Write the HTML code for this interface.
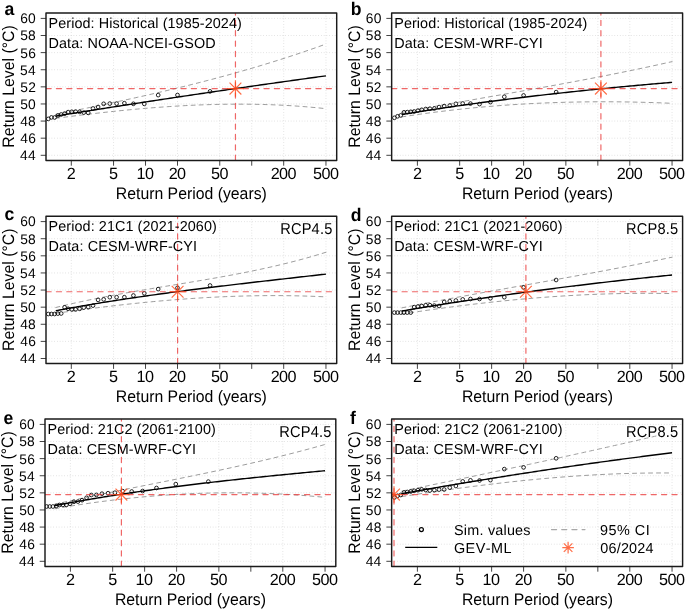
<!DOCTYPE html><html><head><meta charset="utf-8"><style>
html,body{margin:0;padding:0;background:#fff;}
svg{display:block;font-family:"Liberation Sans", sans-serif;font-kerning:none;will-change:transform;}
text{fill:#000;text-rendering:geometricPrecision;}
.grid{stroke:#cdcdcd;stroke-width:0.7;stroke-dasharray:0.75 2.0;fill:none;}
.tick{stroke:#444;stroke-width:1.0;fill:none;}
.ci{stroke:#9c9c9c;stroke-width:1;fill:none;stroke-dasharray:4 4;stroke-linecap:round;}
.gev{stroke:#000;stroke-width:1.4;fill:none;}
.pt circle{stroke:#000;stroke-width:0.85;fill:none;}
.lgc{stroke:#000;stroke-width:1.2;fill:none;}
.red{stroke:rgba(235,60,60,0.78);stroke-width:1.2;fill:none;stroke-dasharray:5.19 5.19;stroke-linecap:round;}
.ast{stroke:rgba(255,69,20,0.78);stroke-width:1.2;fill:none;}
.box{stroke:#1a1a1a;stroke-width:1.45;fill:none;stroke-linejoin:round;}
</style></head><body>
<svg width="685" height="610" viewBox="0 0 685 610">
<rect width="685" height="610" fill="#fff"/>
<g>
<path d="M46 155.3H336.7M46 138.18H336.7M46 121.07H336.7M46 103.96H336.7M46 86.85H336.7M46 69.74H336.7M46 52.62H336.7M46 35.51H336.7M46 18.4H336.7M71.3 13V160.4M113.56 13V160.4M145.53 13V160.4M177.5 13V160.4M219.76 13V160.4M251.73 13V160.4M283.7 13V160.4M325.96 13V160.4" class="grid"/>
<clipPath id="clipa"><rect x="46" y="13" width="290.7" height="147.4"/></clipPath>
<g clip-path="url(#clipa)">
<path d="M55.78 114.35 57.78 113.95 59.78 113.55 61.79 113.15 63.79 112.75 65.79 112.35 67.79 111.95 69.79 111.55 71.79 111.14 73.79 110.74 75.79 110.34 77.8 109.93 79.8 109.52 81.8 109.12 83.8 108.71 85.8 108.3 87.8 107.89 89.8 107.48 91.81 107.06 93.81 106.65 95.81 106.23 97.81 105.82 99.81 105.4 101.81 104.98 103.81 104.56 105.81 104.14 107.82 103.72 109.82 103.3 111.82 102.87 113.82 102.44 115.82 102.02 117.82 101.59 119.82 101.16 121.83 100.73 123.83 100.29 125.83 99.86 127.83 99.42 129.83 98.98 131.83 98.54 133.83 98.1 135.83 97.66 137.84 97.21 139.84 96.77 141.84 96.32 143.84 95.87 145.84 95.42 147.84 94.96 149.84 94.51 151.85 94.05 153.85 93.59 155.85 93.13 157.85 92.67 159.85 92.2 161.85 91.74 163.85 91.27 165.85 90.8 167.86 90.32 169.86 89.85 171.86 89.37 173.86 88.89 175.86 88.41 177.86 87.92 179.86 87.44 181.87 86.95 183.87 86.46 185.87 85.96 187.87 85.47 189.87 84.97 191.87 84.47 193.87 83.97 195.87 83.46 197.88 82.95 199.88 82.44 201.88 81.93 203.88 81.42 205.88 80.9 207.88 80.38 209.88 79.85 211.89 79.33 213.89 78.8 215.89 78.27 217.89 77.73 219.89 77.2 221.89 76.66 223.89 76.11 225.89 75.57 227.9 75.02 229.9 74.47 231.9 73.91 233.9 73.36 235.9 72.8 237.9 72.23 239.9 71.67 241.91 71.1 243.91 70.52 245.91 69.95 247.91 69.37 249.91 68.79 251.91 68.2 253.91 67.61 255.91 67.02 257.92 66.43 259.92 65.83 261.92 65.23 263.92 64.62 265.92 64.01 267.92 63.4 269.92 62.78 271.93 62.17 273.93 61.54 275.93 60.92 277.93 60.29 279.93 59.65 281.93 59.02 283.93 58.38 285.93 57.73 287.94 57.09 289.94 56.43 291.94 55.78 293.94 55.12 295.94 54.46 297.94 53.79 299.94 53.12 301.95 52.45 303.95 51.77 305.95 51.08 307.95 50.4 309.95 49.71 311.95 49.01 313.95 48.32 315.95 47.61 317.96 46.91 319.96 46.2 321.96 45.48 323.96 44.76 325.96 44.04" class="ci"/>
<path d="M55.78 118.33 57.78 118.07 59.78 117.8 61.79 117.54 63.79 117.28 65.79 117.02 67.79 116.76 69.79 116.5 71.79 116.25 73.79 116 75.79 115.75 77.8 115.5 79.8 115.25 81.8 115 83.8 114.76 85.8 114.52 87.8 114.28 89.8 114.04 91.81 113.81 93.81 113.57 95.81 113.34 97.81 113.11 99.81 112.88 101.81 112.66 103.81 112.44 105.81 112.22 107.82 112 109.82 111.78 111.82 111.57 113.82 111.36 115.82 111.15 117.82 110.94 119.82 110.74 121.83 110.53 123.83 110.34 125.83 110.14 127.83 109.95 129.83 109.75 131.83 109.57 133.83 109.38 135.83 109.2 137.84 109.02 139.84 108.84 141.84 108.66 143.84 108.49 145.84 108.32 147.84 108.16 149.84 107.99 151.85 107.83 153.85 107.68 155.85 107.52 157.85 107.37 159.85 107.22 161.85 107.08 163.85 106.93 165.85 106.8 167.86 106.66 169.86 106.53 171.86 106.4 173.86 106.27 175.86 106.15 177.86 106.03 179.86 105.91 181.87 105.8 183.87 105.69 185.87 105.59 187.87 105.49 189.87 105.39 191.87 105.29 193.87 105.2 195.87 105.11 197.88 105.03 199.88 104.95 201.88 104.87 203.88 104.8 205.88 104.73 207.88 104.67 209.88 104.6 211.89 104.55 213.89 104.49 215.89 104.44 217.89 104.4 219.89 104.36 221.89 104.32 223.89 104.28 225.89 104.25 227.9 104.23 229.9 104.21 231.9 104.19 233.9 104.18 235.9 104.17 237.9 104.17 239.9 104.17 241.91 104.17 243.91 104.18 245.91 104.19 247.91 104.21 249.91 104.23 251.91 104.26 253.91 104.29 255.91 104.32 257.92 104.36 259.92 104.41 261.92 104.46 263.92 104.51 265.92 104.57 267.92 104.63 269.92 104.7 271.93 104.77 273.93 104.85 275.93 104.94 277.93 105.02 279.93 105.12 281.93 105.21 283.93 105.31 285.93 105.42 287.94 105.53 289.94 105.65 291.94 105.77 293.94 105.9 295.94 106.04 297.94 106.17 299.94 106.32 301.95 106.47 303.95 106.62 305.95 106.78 307.95 106.94 309.95 107.11 311.95 107.29 313.95 107.47 315.95 107.66 317.96 107.85 319.96 108.04 321.96 108.25 323.96 108.46 325.96 108.67" class="ci"/>
<path d="M55.78 116.1 57.78 115.78 59.78 115.46 61.79 115.13 63.79 114.81 65.79 114.49 67.79 114.17 69.79 113.84 71.79 113.52 73.79 113.2 75.79 112.88 77.8 112.56 79.8 112.24 81.8 111.92 83.8 111.6 85.8 111.29 87.8 110.97 89.8 110.65 91.81 110.33 93.81 110.02 95.81 109.7 97.81 109.38 99.81 109.07 101.81 108.75 103.81 108.44 105.81 108.12 107.82 107.81 109.82 107.5 111.82 107.18 113.82 106.87 115.82 106.56 117.82 106.25 119.82 105.94 121.83 105.62 123.83 105.31 125.83 105 127.83 104.69 129.83 104.38 131.83 104.07 133.83 103.76 135.83 103.46 137.84 103.15 139.84 102.84 141.84 102.53 143.84 102.23 145.84 101.92 147.84 101.61 149.84 101.31 151.85 101 153.85 100.7 155.85 100.39 157.85 100.09 159.85 99.78 161.85 99.48 163.85 99.18 165.85 98.88 167.86 98.57 169.86 98.27 171.86 97.97 173.86 97.67 175.86 97.37 177.86 97.07 179.86 96.77 181.87 96.47 183.87 96.17 185.87 95.87 187.87 95.57 189.87 95.27 191.87 94.97 193.87 94.68 195.87 94.38 197.88 94.08 199.88 93.79 201.88 93.49 203.88 93.19 205.88 92.9 207.88 92.6 209.88 92.31 211.89 92.01 213.89 91.72 215.89 91.43 217.89 91.13 219.89 90.84 221.89 90.55 223.89 90.26 225.89 89.97 227.9 89.67 229.9 89.38 231.9 89.09 233.9 88.8 235.9 88.51 237.9 88.22 239.9 87.93 241.91 87.64 243.91 87.36 245.91 87.07 247.91 86.78 249.91 86.49 251.91 86.21 253.91 85.92 255.91 85.63 257.92 85.35 259.92 85.06 261.92 84.77 263.92 84.49 265.92 84.21 267.92 83.92 269.92 83.64 271.93 83.35 273.93 83.07 275.93 82.79 277.93 82.5 279.93 82.22 281.93 81.94 283.93 81.66 285.93 81.38 287.94 81.1 289.94 80.82 291.94 80.54 293.94 80.26 295.94 79.98 297.94 79.7 299.94 79.42 301.95 79.14 303.95 78.86 305.95 78.58 307.95 78.31 309.95 78.03 311.95 77.75 313.95 77.47 315.95 77.2 317.96 76.92 319.96 76.65 321.96 76.37 323.96 76.1 325.96 75.82" class="gev"/>
<g class="pt"><circle cx="48.3" cy="118.9" r="1.85"/><circle cx="51.44" cy="117.4" r="1.85"/><circle cx="54.62" cy="117.5" r="1.85"/><circle cx="57.87" cy="115.5" r="1.85"/><circle cx="61.19" cy="114.5" r="1.85"/><circle cx="64.61" cy="113.6" r="1.85"/><circle cx="68.13" cy="112.1" r="1.85"/><circle cx="71.79" cy="111.8" r="1.85"/><circle cx="75.6" cy="111.6" r="1.85"/><circle cx="79.59" cy="111.8" r="1.85"/><circle cx="83.79" cy="112.6" r="1.85"/><circle cx="88.24" cy="112.9" r="1.85"/><circle cx="93" cy="108.5" r="1.85"/><circle cx="98.11" cy="107" r="1.85"/><circle cx="103.67" cy="103.8" r="1.85"/><circle cx="109.78" cy="103.6" r="1.85"/><circle cx="116.61" cy="103.6" r="1.85"/><circle cx="124.37" cy="103.2" r="1.85"/><circle cx="133.41" cy="103.8" r="1.85"/><circle cx="144.32" cy="103.9" r="1.85"/><circle cx="158.2" cy="95.1" r="1.85"/><circle cx="177.49" cy="95" r="1.85"/><circle cx="210.04" cy="91.4" r="1.85"/></g>
<path d="M46 88.56H336.7" class="red"/>
<path d="M235.45 160.4V13" class="red"/>
<path d="M235.45 80.26V96.86M227.15 88.56H243.75M229.55 82.66L241.35 94.46M229.55 94.46L241.35 82.66" class="ast"/>
</g>
<text x="48.57" y="27.5" style="font-size:14.4px;letter-spacing:0.07px;">Period: Historical (1985-2024)</text>
<text x="48.57" y="47.5" style="font-size:14.4px;letter-spacing:0.08px;">Data: NOAA-NCEI-GSOD</text>
<path d="M40.7 155.3H46M40.7 138.18H46M40.7 121.07H46M40.7 103.96H46M40.7 86.85H46M40.7 69.74H46M40.7 52.62H46M40.7 35.51H46M40.7 18.4H46M71.3 160.4V165.7M113.56 160.4V165.7M145.53 160.4V165.7M177.5 160.4V165.7M219.76 160.4V165.7M251.73 160.4V165.7M283.7 160.4V165.7M325.96 160.4V165.7" class="tick"/>
<rect x="46" y="13" width="290.7" height="147.4" class="box"/>
<text x="20" y="160.18" style="font-size:13.8px;letter-spacing:0.25px;">44</text>
<text x="20.21" y="143.07" style="font-size:13.8px;letter-spacing:0.25px;">46</text>
<text x="20.2" y="125.96" style="font-size:13.8px;letter-spacing:0.25px;">48</text>
<text x="20.14" y="108.85" style="font-size:13.8px;letter-spacing:0.25px;">50</text>
<text x="20.29" y="91.73" style="font-size:13.8px;letter-spacing:0.25px;">52</text>
<text x="20" y="74.62" style="font-size:13.8px;letter-spacing:0.25px;">54</text>
<text x="20.21" y="57.51" style="font-size:13.8px;letter-spacing:0.25px;">56</text>
<text x="20.2" y="40.4" style="font-size:13.8px;letter-spacing:0.25px;">58</text>
<text x="20.14" y="23.29" style="font-size:13.8px;letter-spacing:0.25px;">60</text>
<text x="66.8" y="178.6" style="font-size:16.2px;letter-spacing:-0.55px;">2</text>
<text x="109.07" y="178.6" style="font-size:16.2px;letter-spacing:-0.55px;">5</text>
<text x="136.5" y="178.6" style="font-size:16.2px;letter-spacing:-0.55px;">10</text>
<text x="168.67" y="178.6" style="font-size:16.2px;letter-spacing:-0.55px;">20</text>
<text x="211.02" y="178.6" style="font-size:16.2px;letter-spacing:-0.55px;">50</text>
<text x="270.64" y="178.6" style="font-size:16.2px;letter-spacing:-0.55px;">200</text>
<text x="312.99" y="178.6" style="font-size:16.2px;letter-spacing:-0.55px;">500</text>
<text transform="translate(115.8 198.6) scale(1 1.05)" style="font-size:15.8px;">Return Period (years)</text>
<text transform="translate(13.85 146.4) rotate(-90) scale(1 1.05)" x="-1.3" y="0" style="font-size:15.8px;letter-spacing:0.01px;">Return Level (°C)</text>
<text transform="translate(4.38 14.5) scale(1 1.03)" style="font-size:17.6px;font-weight:bold;">a</text>
</g>
<g>
<path d="M391.65 155.3H682.6M391.65 138.18H682.6M391.65 121.07H682.6M391.65 103.96H682.6M391.65 86.85H682.6M391.65 69.74H682.6M391.65 52.62H682.6M391.65 35.51H682.6M391.65 18.4H682.6M417.4 13V160.4M459.66 13V160.4M491.63 13V160.4M523.6 13V160.4M565.86 13V160.4M597.83 13V160.4M629.8 13V160.4M672.06 13V160.4" class="grid"/>
<clipPath id="clipb"><rect x="391.65" y="13" width="290.95" height="147.4"/></clipPath>
<g clip-path="url(#clipb)">
<path d="M401.88 112.38 403.88 112.01 405.88 111.64 407.89 111.28 409.89 110.91 411.89 110.55 413.89 110.18 415.89 109.82 417.89 109.46 419.89 109.1 421.89 108.74 423.9 108.38 425.9 108.02 427.9 107.66 429.9 107.3 431.9 106.94 433.9 106.59 435.9 106.23 437.91 105.87 439.91 105.52 441.91 105.16 443.91 104.81 445.91 104.46 447.91 104.1 449.91 103.75 451.91 103.4 453.92 103.04 455.92 102.69 457.92 102.34 459.92 101.99 461.92 101.64 463.92 101.29 465.92 100.94 467.93 100.58 469.93 100.23 471.93 99.88 473.93 99.53 475.93 99.18 477.93 98.83 479.93 98.48 481.93 98.13 483.94 97.78 485.94 97.43 487.94 97.08 489.94 96.73 491.94 96.38 493.94 96.03 495.94 95.68 497.95 95.33 499.95 94.98 501.95 94.63 503.95 94.28 505.95 93.92 507.95 93.57 509.95 93.22 511.95 92.87 513.96 92.51 515.96 92.16 517.96 91.81 519.96 91.45 521.96 91.1 523.96 90.74 525.96 90.39 527.97 90.03 529.97 89.68 531.97 89.32 533.97 88.96 535.97 88.6 537.97 88.24 539.97 87.89 541.97 87.53 543.98 87.16 545.98 86.8 547.98 86.44 549.98 86.08 551.98 85.71 553.98 85.35 555.98 84.99 557.99 84.62 559.99 84.25 561.99 83.88 563.99 83.52 565.99 83.15 567.99 82.78 569.99 82.4 571.99 82.03 574 81.66 576 81.28 578 80.91 580 80.53 582 80.15 584 79.77 586 79.39 588.01 79.01 590.01 78.63 592.01 78.25 594.01 77.86 596.01 77.47 598.01 77.09 600.01 76.7 602.01 76.31 604.02 75.92 606.02 75.52 608.02 75.13 610.02 74.73 612.02 74.34 614.02 73.94 616.02 73.54 618.03 73.14 620.03 72.73 622.03 72.33 624.03 71.92 626.03 71.51 628.03 71.1 630.03 70.69 632.03 70.28 634.04 69.87 636.04 69.45 638.04 69.03 640.04 68.61 642.04 68.19 644.04 67.77 646.04 67.34 648.05 66.91 650.05 66.48 652.05 66.05 654.05 65.62 656.05 65.19 658.05 64.75 660.05 64.31 662.05 63.87 664.06 63.43 666.06 62.98 668.06 62.54 670.06 62.09 672.06 61.64" class="ci"/>
<path d="M401.88 116.91 403.88 116.59 405.88 116.29 407.89 115.98 409.89 115.68 411.89 115.38 413.89 115.09 415.89 114.79 417.89 114.51 419.89 114.22 421.89 113.94 423.9 113.66 425.9 113.39 427.9 113.12 429.9 112.85 431.9 112.59 433.9 112.33 435.9 112.07 437.91 111.82 439.91 111.57 441.91 111.32 443.91 111.08 445.91 110.84 447.91 110.6 449.91 110.37 451.91 110.14 453.92 109.91 455.92 109.69 457.92 109.47 459.92 109.25 461.92 109.04 463.92 108.82 465.92 108.62 467.93 108.41 469.93 108.21 471.93 108.02 473.93 107.82 475.93 107.63 477.93 107.44 479.93 107.26 481.93 107.08 483.94 106.9 485.94 106.73 487.94 106.55 489.94 106.39 491.94 106.22 493.94 106.06 495.94 105.9 497.95 105.74 499.95 105.59 501.95 105.44 503.95 105.3 505.95 105.15 507.95 105.01 509.95 104.87 511.95 104.74 513.96 104.61 515.96 104.48 517.96 104.36 519.96 104.24 521.96 104.12 523.96 104 525.96 103.89 527.97 103.78 529.97 103.67 531.97 103.57 533.97 103.47 535.97 103.37 537.97 103.28 539.97 103.18 541.97 103.1 543.98 103.01 545.98 102.93 547.98 102.85 549.98 102.77 551.98 102.7 553.98 102.63 555.98 102.56 557.99 102.49 559.99 102.43 561.99 102.37 563.99 102.31 565.99 102.26 567.99 102.21 569.99 102.16 571.99 102.12 574 102.08 576 102.04 578 102 580 101.97 582 101.93 584 101.91 586 101.88 588.01 101.86 590.01 101.84 592.01 101.82 594.01 101.81 596.01 101.8 598.01 101.79 600.01 101.78 602.01 101.78 604.02 101.78 606.02 101.78 608.02 101.78 610.02 101.79 612.02 101.8 614.02 101.81 616.02 101.83 618.03 101.85 620.03 101.87 622.03 101.89 624.03 101.92 626.03 101.95 628.03 101.98 630.03 102.01 632.03 102.05 634.04 102.09 636.04 102.13 638.04 102.18 640.04 102.22 642.04 102.27 644.04 102.32 646.04 102.38 648.05 102.44 650.05 102.5 652.05 102.56 654.05 102.62 656.05 102.69 658.05 102.76 660.05 102.83 662.05 102.91 664.06 102.98 666.06 103.06 668.06 103.15 670.06 103.23 672.06 103.32" class="ci"/>
<path d="M401.88 114.52 403.88 114.19 405.88 113.86 407.89 113.53 409.89 113.21 411.89 112.88 413.89 112.56 415.89 112.24 417.89 111.92 419.89 111.61 421.89 111.29 423.9 110.98 425.9 110.66 427.9 110.35 429.9 110.05 431.9 109.74 433.9 109.43 435.9 109.13 437.91 108.83 439.91 108.53 441.91 108.23 443.91 107.93 445.91 107.63 447.91 107.34 449.91 107.04 451.91 106.75 453.92 106.46 455.92 106.17 457.92 105.89 459.92 105.6 461.92 105.32 463.92 105.04 465.92 104.76 467.93 104.48 469.93 104.2 471.93 103.92 473.93 103.65 475.93 103.37 477.93 103.1 479.93 102.83 481.93 102.56 483.94 102.29 485.94 102.03 487.94 101.76 489.94 101.5 491.94 101.23 493.94 100.97 495.94 100.71 497.95 100.45 499.95 100.2 501.95 99.94 503.95 99.69 505.95 99.44 507.95 99.18 509.95 98.93 511.95 98.68 513.96 98.44 515.96 98.19 517.96 97.95 519.96 97.7 521.96 97.46 523.96 97.22 525.96 96.98 527.97 96.74 529.97 96.5 531.97 96.27 533.97 96.03 535.97 95.8 537.97 95.56 539.97 95.33 541.97 95.1 543.98 94.87 545.98 94.65 547.98 94.42 549.98 94.19 551.98 93.97 553.98 93.75 555.98 93.52 557.99 93.3 559.99 93.08 561.99 92.87 563.99 92.65 565.99 92.43 567.99 92.22 569.99 92 571.99 91.79 574 91.58 576 91.37 578 91.16 580 90.95 582 90.74 584 90.53 586 90.33 588.01 90.12 590.01 89.92 592.01 89.72 594.01 89.51 596.01 89.31 598.01 89.11 600.01 88.92 602.01 88.72 604.02 88.52 606.02 88.33 608.02 88.13 610.02 87.94 612.02 87.74 614.02 87.55 616.02 87.36 618.03 87.17 620.03 86.98 622.03 86.79 624.03 86.61 626.03 86.42 628.03 86.23 630.03 86.05 632.03 85.86 634.04 85.68 636.04 85.5 638.04 85.32 640.04 85.14 642.04 84.96 644.04 84.78 646.04 84.6 648.05 84.42 650.05 84.25 652.05 84.07 654.05 83.9 656.05 83.72 658.05 83.55 660.05 83.37 662.05 83.2 664.06 83.03 666.06 82.86 668.06 82.69 670.06 82.52 672.06 82.35" class="gev"/>
<g class="pt"><circle cx="394.4" cy="117.8" r="1.85"/><circle cx="397.54" cy="116.3" r="1.85"/><circle cx="400.72" cy="115.4" r="1.85"/><circle cx="403.97" cy="112.3" r="1.85"/><circle cx="407.29" cy="112.1" r="1.85"/><circle cx="410.71" cy="111.8" r="1.85"/><circle cx="414.23" cy="111.5" r="1.85"/><circle cx="417.89" cy="110.6" r="1.85"/><circle cx="421.7" cy="109.8" r="1.85"/><circle cx="425.69" cy="109" r="1.85"/><circle cx="429.89" cy="108.7" r="1.85"/><circle cx="434.34" cy="108.5" r="1.85"/><circle cx="439.1" cy="107.1" r="1.85"/><circle cx="444.21" cy="106.1" r="1.85"/><circle cx="449.77" cy="105.6" r="1.85"/><circle cx="455.88" cy="103.8" r="1.85"/><circle cx="462.71" cy="103.5" r="1.85"/><circle cx="470.47" cy="103.6" r="1.85"/><circle cx="479.51" cy="104.1" r="1.85"/><circle cx="490.42" cy="102.1" r="1.85"/><circle cx="504.3" cy="96.8" r="1.85"/><circle cx="523.59" cy="95.45" r="1.85"/><circle cx="556.14" cy="92.1" r="1.85"/></g>
<path d="M391.65 88.56H682.6" class="red"/>
<path d="M600.9 160.4V13" class="red"/>
<path d="M600.9 80.26V96.86M592.6 88.56H609.2M595 82.66L606.8 94.46M595 94.46L606.8 82.66" class="ast"/>
</g>
<text x="394.22" y="27.5" style="font-size:14.4px;letter-spacing:0.07px;">Period: Historical (1985-2024)</text>
<text x="394.22" y="47.5" style="font-size:14.4px;letter-spacing:0.13px;">Data: CESM-WRF-CYI</text>
<path d="M386.35 155.3H391.65M386.35 138.18H391.65M386.35 121.07H391.65M386.35 103.96H391.65M386.35 86.85H391.65M386.35 69.74H391.65M386.35 52.62H391.65M386.35 35.51H391.65M386.35 18.4H391.65M417.4 160.4V165.7M459.66 160.4V165.7M491.63 160.4V165.7M523.6 160.4V165.7M565.86 160.4V165.7M597.83 160.4V165.7M629.8 160.4V165.7M672.06 160.4V165.7" class="tick"/>
<rect x="391.65" y="13" width="290.95" height="147.4" class="box"/>
<text x="365.65" y="160.18" style="font-size:13.8px;letter-spacing:0.25px;">44</text>
<text x="365.86" y="143.07" style="font-size:13.8px;letter-spacing:0.25px;">46</text>
<text x="365.85" y="125.96" style="font-size:13.8px;letter-spacing:0.25px;">48</text>
<text x="365.79" y="108.85" style="font-size:13.8px;letter-spacing:0.25px;">50</text>
<text x="365.94" y="91.73" style="font-size:13.8px;letter-spacing:0.25px;">52</text>
<text x="365.65" y="74.62" style="font-size:13.8px;letter-spacing:0.25px;">54</text>
<text x="365.86" y="57.51" style="font-size:13.8px;letter-spacing:0.25px;">56</text>
<text x="365.85" y="40.4" style="font-size:13.8px;letter-spacing:0.25px;">58</text>
<text x="365.79" y="23.29" style="font-size:13.8px;letter-spacing:0.25px;">60</text>
<text x="412.9" y="178.6" style="font-size:16.2px;letter-spacing:-0.55px;">2</text>
<text x="455.17" y="178.6" style="font-size:16.2px;letter-spacing:-0.55px;">5</text>
<text x="482.6" y="178.6" style="font-size:16.2px;letter-spacing:-0.55px;">10</text>
<text x="514.77" y="178.6" style="font-size:16.2px;letter-spacing:-0.55px;">20</text>
<text x="557.12" y="178.6" style="font-size:16.2px;letter-spacing:-0.55px;">50</text>
<text x="616.74" y="178.6" style="font-size:16.2px;letter-spacing:-0.55px;">200</text>
<text x="659.09" y="178.6" style="font-size:16.2px;letter-spacing:-0.55px;">500</text>
<text transform="translate(461.9 198.6) scale(1 1.05)" style="font-size:15.8px;">Return Period (years)</text>
<text transform="translate(359.95 146.4) rotate(-90) scale(1 1.05)" x="-1.3" y="0" style="font-size:15.8px;letter-spacing:0.01px;">Return Level (°C)</text>
<text transform="translate(350.64 14.5) scale(1 1.03)" style="font-size:17.6px;font-weight:bold;">b</text>
</g>
<g>
<path d="M46 358.5H336.7M46 341.38H336.7M46 324.27H336.7M46 307.16H336.7M46 290.05H336.7M46 272.94H336.7M46 255.82H336.7M46 238.71H336.7M46 221.6H336.7M71.3 216.2V363.6M113.56 216.2V363.6M145.53 216.2V363.6M177.5 216.2V363.6M219.76 216.2V363.6M251.73 216.2V363.6M283.7 216.2V363.6M325.96 216.2V363.6" class="grid"/>
<clipPath id="clipc"><rect x="46" y="216.2" width="290.7" height="147.4"/></clipPath>
<g clip-path="url(#clipc)">
<path d="M55.78 307.51 57.78 307.02 59.78 306.53 61.79 306.05 63.79 305.57 65.79 305.1 67.79 304.64 69.79 304.18 71.79 303.72 73.79 303.27 75.79 302.83 77.8 302.39 79.8 301.95 81.8 301.52 83.8 301.1 85.8 300.67 87.8 300.26 89.8 299.84 91.81 299.43 93.81 299.03 95.81 298.63 97.81 298.23 99.81 297.84 101.81 297.45 103.81 297.06 105.81 296.68 107.82 296.3 109.82 295.92 111.82 295.55 113.82 295.17 115.82 294.81 117.82 294.44 119.82 294.08 121.83 293.72 123.83 293.36 125.83 293.01 127.83 292.66 129.83 292.31 131.83 291.96 133.83 291.61 135.83 291.27 137.84 290.92 139.84 290.58 141.84 290.24 143.84 289.91 145.84 289.57 147.84 289.23 149.84 288.9 151.85 288.57 153.85 288.23 155.85 287.9 157.85 287.57 159.85 287.24 161.85 286.91 163.85 286.59 165.85 286.26 167.86 285.93 169.86 285.6 171.86 285.27 173.86 284.95 175.86 284.62 177.86 284.29 179.86 283.96 181.87 283.63 183.87 283.3 185.87 282.97 187.87 282.64 189.87 282.31 191.87 281.98 193.87 281.64 195.87 281.31 197.88 280.97 199.88 280.64 201.88 280.3 203.88 279.96 205.88 279.61 207.88 279.27 209.88 278.93 211.89 278.58 213.89 278.23 215.89 277.88 217.89 277.52 219.89 277.17 221.89 276.81 223.89 276.45 225.89 276.08 227.9 275.71 229.9 275.34 231.9 274.97 233.9 274.6 235.9 274.22 237.9 273.83 239.9 273.45 241.91 273.06 243.91 272.67 245.91 272.27 247.91 271.87 249.91 271.47 251.91 271.06 253.91 270.65 255.91 270.23 257.92 269.81 259.92 269.39 261.92 268.96 263.92 268.52 265.92 268.08 267.92 267.64 269.92 267.19 271.93 266.74 273.93 266.28 275.93 265.82 277.93 265.35 279.93 264.87 281.93 264.39 283.93 263.91 285.93 263.42 287.94 262.92 289.94 262.42 291.94 261.91 293.94 261.39 295.94 260.87 297.94 260.35 299.94 259.81 301.95 259.27 303.95 258.73 305.95 258.17 307.95 257.61 309.95 257.04 311.95 256.47 313.95 255.89 315.95 255.3 317.96 254.7 319.96 254.1 321.96 253.49 323.96 252.87 325.96 252.25" class="ci"/>
<path d="M55.78 313.33 57.78 313.04 59.78 312.76 61.79 312.48 63.79 312.2 65.79 311.92 67.79 311.64 69.79 311.36 71.79 311.09 73.79 310.82 75.79 310.55 77.8 310.28 79.8 310.01 81.8 309.75 83.8 309.48 85.8 309.22 87.8 308.96 89.8 308.7 91.81 308.45 93.81 308.19 95.81 307.94 97.81 307.69 99.81 307.44 101.81 307.2 103.81 306.95 105.81 306.71 107.82 306.47 109.82 306.23 111.82 306 113.82 305.76 115.82 305.53 117.82 305.3 119.82 305.07 121.83 304.85 123.83 304.63 125.83 304.41 127.83 304.19 129.83 303.97 131.83 303.76 133.83 303.55 135.83 303.34 137.84 303.13 139.84 302.93 141.84 302.72 143.84 302.52 145.84 302.33 147.84 302.13 149.84 301.94 151.85 301.75 153.85 301.56 155.85 301.38 157.85 301.19 159.85 301.01 161.85 300.84 163.85 300.66 165.85 300.49 167.86 300.32 169.86 300.15 171.86 299.99 173.86 299.83 175.86 299.67 177.86 299.51 179.86 299.36 181.87 299.21 183.87 299.06 185.87 298.92 187.87 298.78 189.87 298.64 191.87 298.5 193.87 298.37 195.87 298.24 197.88 298.11 199.88 297.98 201.88 297.86 203.88 297.74 205.88 297.63 207.88 297.51 209.88 297.41 211.89 297.3 213.89 297.19 215.89 297.09 217.89 297 219.89 296.9 221.89 296.81 223.89 296.72 225.89 296.64 227.9 296.56 229.9 296.48 231.9 296.4 233.9 296.33 235.9 296.26 237.9 296.2 239.9 296.14 241.91 296.08 243.91 296.02 245.91 295.97 247.91 295.92 249.91 295.88 251.91 295.84 253.91 295.8 255.91 295.76 257.92 295.73 259.92 295.7 261.92 295.68 263.92 295.66 265.92 295.64 267.92 295.63 269.92 295.62 271.93 295.61 273.93 295.61 275.93 295.61 277.93 295.62 279.93 295.62 281.93 295.64 283.93 295.65 285.93 295.67 287.94 295.7 289.94 295.72 291.94 295.75 293.94 295.79 295.94 295.83 297.94 295.87 299.94 295.92 301.95 295.97 303.95 296.02 305.95 296.08 307.95 296.14 309.95 296.21 311.95 296.28 313.95 296.35 315.95 296.43 317.96 296.51 319.96 296.6 321.96 296.69 323.96 296.79 325.96 296.89" class="ci"/>
<path d="M55.78 310.7 57.78 310.32 59.78 309.95 61.79 309.58 63.79 309.22 65.79 308.85 67.79 308.49 69.79 308.13 71.79 307.78 73.79 307.42 75.79 307.07 77.8 306.72 79.8 306.37 81.8 306.02 83.8 305.68 85.8 305.34 87.8 305 89.8 304.66 91.81 304.33 93.81 303.99 95.81 303.66 97.81 303.33 99.81 303.01 101.81 302.68 103.81 302.36 105.81 302.04 107.82 301.72 109.82 301.4 111.82 301.09 113.82 300.77 115.82 300.46 117.82 300.15 119.82 299.84 121.83 299.54 123.83 299.23 125.83 298.93 127.83 298.63 129.83 298.33 131.83 298.03 133.83 297.73 135.83 297.44 137.84 297.15 139.84 296.86 141.84 296.57 143.84 296.28 145.84 295.99 147.84 295.71 149.84 295.42 151.85 295.14 153.85 294.86 155.85 294.58 157.85 294.3 159.85 294.03 161.85 293.75 163.85 293.48 165.85 293.21 167.86 292.94 169.86 292.67 171.86 292.4 173.86 292.13 175.86 291.87 177.86 291.6 179.86 291.34 181.87 291.08 183.87 290.82 185.87 290.56 187.87 290.3 189.87 290.04 191.87 289.79 193.87 289.53 195.87 289.28 197.88 289.02 199.88 288.77 201.88 288.52 203.88 288.27 205.88 288.02 207.88 287.77 209.88 287.53 211.89 287.28 213.89 287.04 215.89 286.79 217.89 286.55 219.89 286.31 221.89 286.06 223.89 285.82 225.89 285.58 227.9 285.34 229.9 285.1 231.9 284.87 233.9 284.63 235.9 284.39 237.9 284.15 239.9 283.92 241.91 283.68 243.91 283.45 245.91 283.22 247.91 282.98 249.91 282.75 251.91 282.52 253.91 282.29 255.91 282.06 257.92 281.82 259.92 281.59 261.92 281.36 263.92 281.13 265.92 280.91 267.92 280.68 269.92 280.45 271.93 280.22 273.93 279.99 275.93 279.77 277.93 279.54 279.93 279.31 281.93 279.08 283.93 278.86 285.93 278.63 287.94 278.41 289.94 278.18 291.94 277.95 293.94 277.73 295.94 277.5 297.94 277.28 299.94 277.05 301.95 276.82 303.95 276.6 305.95 276.37 307.95 276.15 309.95 275.92 311.95 275.7 313.95 275.47 315.95 275.24 317.96 275.02 319.96 274.79 321.96 274.57 323.96 274.34 325.96 274.11" class="gev"/>
<g class="pt"><circle cx="48.3" cy="314" r="1.85"/><circle cx="51.44" cy="314" r="1.85"/><circle cx="54.62" cy="314" r="1.85"/><circle cx="57.87" cy="313.6" r="1.85"/><circle cx="61.19" cy="313.5" r="1.85"/><circle cx="64.61" cy="307.3" r="1.85"/><circle cx="68.13" cy="308.8" r="1.85"/><circle cx="71.79" cy="309.4" r="1.85"/><circle cx="75.6" cy="309.4" r="1.85"/><circle cx="79.59" cy="308.8" r="1.85"/><circle cx="83.79" cy="307.6" r="1.85"/><circle cx="88.24" cy="307.1" r="1.85"/><circle cx="93" cy="305.6" r="1.85"/><circle cx="98.11" cy="299.9" r="1.85"/><circle cx="103.67" cy="299.4" r="1.85"/><circle cx="109.78" cy="297.2" r="1.85"/><circle cx="116.61" cy="297.2" r="1.85"/><circle cx="124.37" cy="297.2" r="1.85"/><circle cx="133.41" cy="295.5" r="1.85"/><circle cx="144.32" cy="293.3" r="1.85"/><circle cx="158.2" cy="289.1" r="1.85"/><circle cx="177.49" cy="287.8" r="1.85"/><circle cx="210.04" cy="285.5" r="1.85"/></g>
<path d="M46 291.76H336.7" class="red"/>
<path d="M177.6 363.6V216.2" class="red"/>
<path d="M177.6 283.46V300.06M169.3 291.76H185.9M171.7 285.86L183.5 297.66M171.7 297.66L183.5 285.86" class="ast"/>
</g>
<text x="48.57" y="230.7" style="font-size:14.4px;letter-spacing:0.08px;">Period: 21C1 (2021-2060)</text>
<text x="48.57" y="250.7" style="font-size:14.4px;letter-spacing:0.13px;">Data: CESM-WRF-CYI</text>
<text transform="translate(280.2 234) scale(1 1.08)" style="font-size:14.6px;letter-spacing:0.2px;">RCP4.5</text>
<path d="M40.7 358.5H46M40.7 341.38H46M40.7 324.27H46M40.7 307.16H46M40.7 290.05H46M40.7 272.94H46M40.7 255.82H46M40.7 238.71H46M40.7 221.6H46M71.3 363.6V368.9M113.56 363.6V368.9M145.53 363.6V368.9M177.5 363.6V368.9M219.76 363.6V368.9M251.73 363.6V368.9M283.7 363.6V368.9M325.96 363.6V368.9" class="tick"/>
<rect x="46" y="216.2" width="290.7" height="147.4" class="box"/>
<text x="20" y="363.38" style="font-size:13.8px;letter-spacing:0.25px;">44</text>
<text x="20.21" y="346.27" style="font-size:13.8px;letter-spacing:0.25px;">46</text>
<text x="20.2" y="329.16" style="font-size:13.8px;letter-spacing:0.25px;">48</text>
<text x="20.14" y="312.05" style="font-size:13.8px;letter-spacing:0.25px;">50</text>
<text x="20.29" y="294.93" style="font-size:13.8px;letter-spacing:0.25px;">52</text>
<text x="20" y="277.82" style="font-size:13.8px;letter-spacing:0.25px;">54</text>
<text x="20.21" y="260.71" style="font-size:13.8px;letter-spacing:0.25px;">56</text>
<text x="20.2" y="243.6" style="font-size:13.8px;letter-spacing:0.25px;">58</text>
<text x="20.14" y="226.49" style="font-size:13.8px;letter-spacing:0.25px;">60</text>
<text x="66.8" y="381.8" style="font-size:16.2px;letter-spacing:-0.55px;">2</text>
<text x="109.07" y="381.8" style="font-size:16.2px;letter-spacing:-0.55px;">5</text>
<text x="136.5" y="381.8" style="font-size:16.2px;letter-spacing:-0.55px;">10</text>
<text x="168.67" y="381.8" style="font-size:16.2px;letter-spacing:-0.55px;">20</text>
<text x="211.02" y="381.8" style="font-size:16.2px;letter-spacing:-0.55px;">50</text>
<text x="270.64" y="381.8" style="font-size:16.2px;letter-spacing:-0.55px;">200</text>
<text x="312.99" y="381.8" style="font-size:16.2px;letter-spacing:-0.55px;">500</text>
<text transform="translate(115.8 401.8) scale(1 1.05)" style="font-size:15.8px;">Return Period (years)</text>
<text transform="translate(13.85 349.6) rotate(-90) scale(1 1.05)" x="-1.3" y="0" style="font-size:15.8px;letter-spacing:0.01px;">Return Level (°C)</text>
<text transform="translate(4.61 220) scale(1 1.03)" style="font-size:17.6px;font-weight:bold;">c</text>
</g>
<g>
<path d="M391.65 358.5H682.6M391.65 341.38H682.6M391.65 324.27H682.6M391.65 307.16H682.6M391.65 290.05H682.6M391.65 272.94H682.6M391.65 255.82H682.6M391.65 238.71H682.6M391.65 221.6H682.6M417.4 216.2V363.6M459.66 216.2V363.6M491.63 216.2V363.6M523.6 216.2V363.6M565.86 216.2V363.6M597.83 216.2V363.6M629.8 216.2V363.6M672.06 216.2V363.6" class="grid"/>
<clipPath id="clipd"><rect x="391.65" y="216.2" width="290.95" height="147.4"/></clipPath>
<g clip-path="url(#clipd)">
<path d="M401.88 307.86 403.88 307.46 405.88 307.07 407.89 306.67 409.89 306.28 411.89 305.89 413.89 305.49 415.89 305.11 417.89 304.72 419.89 304.33 421.89 303.94 423.9 303.56 425.9 303.17 427.9 302.79 429.9 302.41 431.9 302.03 433.9 301.65 435.9 301.27 437.91 300.9 439.91 300.52 441.91 300.14 443.91 299.77 445.91 299.4 447.91 299.02 449.91 298.65 451.91 298.28 453.92 297.91 455.92 297.54 457.92 297.17 459.92 296.81 461.92 296.44 463.92 296.07 465.92 295.71 467.93 295.34 469.93 294.98 471.93 294.61 473.93 294.25 475.93 293.89 477.93 293.53 479.93 293.16 481.93 292.8 483.94 292.44 485.94 292.08 487.94 291.72 489.94 291.36 491.94 291 493.94 290.65 495.94 290.29 497.95 289.93 499.95 289.57 501.95 289.21 503.95 288.86 505.95 288.5 507.95 288.14 509.95 287.79 511.95 287.43 513.96 287.07 515.96 286.72 517.96 286.36 519.96 286 521.96 285.65 523.96 285.29 525.96 284.93 527.97 284.58 529.97 284.22 531.97 283.86 533.97 283.51 535.97 283.15 537.97 282.79 539.97 282.44 541.97 282.08 543.98 281.72 545.98 281.36 547.98 281 549.98 280.64 551.98 280.29 553.98 279.93 555.98 279.57 557.99 279.21 559.99 278.84 561.99 278.48 563.99 278.12 565.99 277.76 567.99 277.4 569.99 277.03 571.99 276.67 574 276.3 576 275.94 578 275.57 580 275.21 582 274.84 584 274.47 586 274.1 588.01 273.73 590.01 273.36 592.01 272.99 594.01 272.62 596.01 272.25 598.01 271.87 600.01 271.5 602.01 271.12 604.02 270.74 606.02 270.37 608.02 269.99 610.02 269.61 612.02 269.23 614.02 268.84 616.02 268.46 618.03 268.08 620.03 267.69 622.03 267.31 624.03 266.92 626.03 266.53 628.03 266.14 630.03 265.75 632.03 265.35 634.04 264.96 636.04 264.56 638.04 264.17 640.04 263.77 642.04 263.37 644.04 262.97 646.04 262.56 648.05 262.16 650.05 261.75 652.05 261.35 654.05 260.94 656.05 260.53 658.05 260.12 660.05 259.7 662.05 259.29 664.06 258.87 666.06 258.45 668.06 258.03 670.06 257.61 672.06 257.18" class="ci"/>
<path d="M401.88 314.03 403.88 313.73 405.88 313.42 407.89 313.11 409.89 312.81 411.89 312.51 413.89 312.21 415.89 311.92 417.89 311.62 419.89 311.33 421.89 311.04 423.9 310.75 425.9 310.46 427.9 310.17 429.9 309.89 431.9 309.61 433.9 309.33 435.9 309.05 437.91 308.77 439.91 308.5 441.91 308.23 443.91 307.96 445.91 307.69 447.91 307.42 449.91 307.16 451.91 306.9 453.92 306.64 455.92 306.38 457.92 306.12 459.92 305.87 461.92 305.62 463.92 305.37 465.92 305.12 467.93 304.88 469.93 304.64 471.93 304.4 473.93 304.16 475.93 303.92 477.93 303.69 479.93 303.46 481.93 303.23 483.94 303 485.94 302.78 487.94 302.56 489.94 302.34 491.94 302.12 493.94 301.9 495.94 301.69 497.95 301.48 499.95 301.27 501.95 301.06 503.95 300.86 505.95 300.66 507.95 300.46 509.95 300.26 511.95 300.07 513.96 299.88 515.96 299.69 517.96 299.5 519.96 299.32 521.96 299.14 523.96 298.96 525.96 298.78 527.97 298.61 529.97 298.44 531.97 298.27 533.97 298.1 535.97 297.94 537.97 297.78 539.97 297.62 541.97 297.47 543.98 297.31 545.98 297.16 547.98 297.02 549.98 296.87 551.98 296.73 553.98 296.59 555.98 296.45 557.99 296.32 559.99 296.19 561.99 296.06 563.99 295.93 565.99 295.81 567.99 295.69 569.99 295.57 571.99 295.46 574 295.35 576 295.24 578 295.13 580 295.03 582 294.93 584 294.83 586 294.74 588.01 294.64 590.01 294.56 592.01 294.47 594.01 294.39 596.01 294.31 598.01 294.23 600.01 294.16 602.01 294.09 604.02 294.02 606.02 293.95 608.02 293.89 610.02 293.83 612.02 293.78 614.02 293.73 616.02 293.68 618.03 293.63 620.03 293.59 622.03 293.55 624.03 293.51 626.03 293.48 628.03 293.45 630.03 293.42 632.03 293.39 634.04 293.37 636.04 293.35 638.04 293.34 640.04 293.33 642.04 293.32 644.04 293.32 646.04 293.31 648.05 293.32 650.05 293.32 652.05 293.33 654.05 293.34 656.05 293.36 658.05 293.38 660.05 293.4 662.05 293.42 664.06 293.45 666.06 293.48 668.06 293.52 670.06 293.56 672.06 293.6" class="ci"/>
<path d="M401.88 310.99 403.88 310.66 405.88 310.32 407.89 309.98 409.89 309.65 411.89 309.31 413.89 308.98 415.89 308.65 417.89 308.32 419.89 307.99 421.89 307.66 423.9 307.33 425.9 307.01 427.9 306.68 429.9 306.36 431.9 306.03 433.9 305.71 435.9 305.39 437.91 305.07 439.91 304.76 441.91 304.44 443.91 304.12 445.91 303.81 447.91 303.5 449.91 303.18 451.91 302.87 453.92 302.56 455.92 302.25 457.92 301.94 459.92 301.64 461.92 301.33 463.92 301.03 465.92 300.72 467.93 300.42 469.93 300.12 471.93 299.82 473.93 299.52 475.93 299.22 477.93 298.93 479.93 298.63 481.93 298.34 483.94 298.04 485.94 297.75 487.94 297.46 489.94 297.17 491.94 296.88 493.94 296.59 495.94 296.3 497.95 296.02 499.95 295.73 501.95 295.45 503.95 295.17 505.95 294.89 507.95 294.6 509.95 294.32 511.95 294.05 513.96 293.77 515.96 293.49 517.96 293.22 519.96 292.94 521.96 292.67 523.96 292.4 525.96 292.13 527.97 291.86 529.97 291.59 531.97 291.32 533.97 291.05 535.97 290.79 537.97 290.52 539.97 290.26 541.97 289.99 543.98 289.73 545.98 289.47 547.98 289.21 549.98 288.95 551.98 288.69 553.98 288.44 555.98 288.18 557.99 287.93 559.99 287.67 561.99 287.42 563.99 287.17 565.99 286.92 567.99 286.67 569.99 286.42 571.99 286.17 574 285.93 576 285.68 578 285.44 580 285.19 582 284.95 584 284.71 586 284.47 588.01 284.23 590.01 283.99 592.01 283.75 594.01 283.51 596.01 283.28 598.01 283.04 600.01 282.81 602.01 282.57 604.02 282.34 606.02 282.11 608.02 281.88 610.02 281.65 612.02 281.42 614.02 281.2 616.02 280.97 618.03 280.74 620.03 280.52 622.03 280.3 624.03 280.07 626.03 279.85 628.03 279.63 630.03 279.41 632.03 279.19 634.04 278.97 636.04 278.76 638.04 278.54 640.04 278.33 642.04 278.11 644.04 277.9 646.04 277.69 648.05 277.48 650.05 277.26 652.05 277.06 654.05 276.85 656.05 276.64 658.05 276.43 660.05 276.23 662.05 276.02 664.06 275.82 666.06 275.61 668.06 275.41 670.06 275.21 672.06 275.01" class="gev"/>
<g class="pt"><circle cx="394.4" cy="312.6" r="1.85"/><circle cx="397.54" cy="312.6" r="1.85"/><circle cx="400.72" cy="312.6" r="1.85"/><circle cx="403.97" cy="312.6" r="1.85"/><circle cx="407.29" cy="312.6" r="1.85"/><circle cx="410.71" cy="312.6" r="1.85"/><circle cx="414.23" cy="307.1" r="1.85"/><circle cx="417.89" cy="306.6" r="1.85"/><circle cx="421.7" cy="306" r="1.85"/><circle cx="425.69" cy="305.2" r="1.85"/><circle cx="429.89" cy="305.2" r="1.85"/><circle cx="434.34" cy="305.6" r="1.85"/><circle cx="439.1" cy="306" r="1.85"/><circle cx="444.21" cy="302" r="1.85"/><circle cx="449.77" cy="301.2" r="1.85"/><circle cx="455.88" cy="300.5" r="1.85"/><circle cx="462.71" cy="299.4" r="1.85"/><circle cx="470.47" cy="299" r="1.85"/><circle cx="479.51" cy="299" r="1.85"/><circle cx="490.42" cy="298.3" r="1.85"/><circle cx="504.3" cy="297.2" r="1.85"/><circle cx="523.59" cy="287.4" r="1.85"/><circle cx="556.14" cy="280" r="1.85"/></g>
<path d="M391.65 291.76H682.6" class="red"/>
<path d="M525.9 363.6V216.2" class="red"/>
<path d="M525.9 283.46V300.06M517.6 291.76H534.2M520 285.86L531.8 297.66M520 297.66L531.8 285.86" class="ast"/>
</g>
<text x="394.22" y="230.7" style="font-size:14.4px;letter-spacing:0.08px;">Period: 21C1 (2021-2060)</text>
<text x="394.22" y="250.7" style="font-size:14.4px;letter-spacing:0.13px;">Data: CESM-WRF-CYI</text>
<text transform="translate(626.1 234) scale(1 1.08)" style="font-size:14.6px;letter-spacing:0.2px;">RCP8.5</text>
<path d="M386.35 358.5H391.65M386.35 341.38H391.65M386.35 324.27H391.65M386.35 307.16H391.65M386.35 290.05H391.65M386.35 272.94H391.65M386.35 255.82H391.65M386.35 238.71H391.65M386.35 221.6H391.65M417.4 363.6V368.9M459.66 363.6V368.9M491.63 363.6V368.9M523.6 363.6V368.9M565.86 363.6V368.9M597.83 363.6V368.9M629.8 363.6V368.9M672.06 363.6V368.9" class="tick"/>
<rect x="391.65" y="216.2" width="290.95" height="147.4" class="box"/>
<text x="365.65" y="363.38" style="font-size:13.8px;letter-spacing:0.25px;">44</text>
<text x="365.86" y="346.27" style="font-size:13.8px;letter-spacing:0.25px;">46</text>
<text x="365.85" y="329.16" style="font-size:13.8px;letter-spacing:0.25px;">48</text>
<text x="365.79" y="312.05" style="font-size:13.8px;letter-spacing:0.25px;">50</text>
<text x="365.94" y="294.93" style="font-size:13.8px;letter-spacing:0.25px;">52</text>
<text x="365.65" y="277.82" style="font-size:13.8px;letter-spacing:0.25px;">54</text>
<text x="365.86" y="260.71" style="font-size:13.8px;letter-spacing:0.25px;">56</text>
<text x="365.85" y="243.6" style="font-size:13.8px;letter-spacing:0.25px;">58</text>
<text x="365.79" y="226.49" style="font-size:13.8px;letter-spacing:0.25px;">60</text>
<text x="412.9" y="381.8" style="font-size:16.2px;letter-spacing:-0.55px;">2</text>
<text x="455.17" y="381.8" style="font-size:16.2px;letter-spacing:-0.55px;">5</text>
<text x="482.6" y="381.8" style="font-size:16.2px;letter-spacing:-0.55px;">10</text>
<text x="514.77" y="381.8" style="font-size:16.2px;letter-spacing:-0.55px;">20</text>
<text x="557.12" y="381.8" style="font-size:16.2px;letter-spacing:-0.55px;">50</text>
<text x="616.74" y="381.8" style="font-size:16.2px;letter-spacing:-0.55px;">200</text>
<text x="659.09" y="381.8" style="font-size:16.2px;letter-spacing:-0.55px;">500</text>
<text transform="translate(461.9 401.8) scale(1 1.05)" style="font-size:15.8px;">Return Period (years)</text>
<text transform="translate(359.95 349.6) rotate(-90) scale(1 1.05)" x="-1.3" y="0" style="font-size:15.8px;letter-spacing:0.01px;">Return Level (°C)</text>
<text transform="translate(350.78 220.5) scale(1 1.03)" style="font-size:17.6px;font-weight:bold;">d</text>
</g>
<g>
<path d="M45 561.3H335.8M45 544.18H335.8M45 527.07H335.8M45 509.96H335.8M45 492.85H335.8M45 475.74H335.8M45 458.62H335.8M45 441.51H335.8M45 424.4H335.8M70.4 419V566.4M112.66 419V566.4M144.63 419V566.4M176.6 419V566.4M218.86 419V566.4M250.83 419V566.4M282.8 419V566.4M325.06 419V566.4" class="grid"/>
<clipPath id="clipe"><rect x="45" y="419" width="290.8" height="147.4"/></clipPath>
<g clip-path="url(#clipe)">
<path d="M54.88 504.17 56.88 503.73 58.88 503.28 60.89 502.84 62.89 502.4 64.89 501.96 66.89 501.53 68.89 501.09 70.89 500.66 72.89 500.23 74.89 499.8 76.9 499.37 78.9 498.94 80.9 498.52 82.9 498.09 84.9 497.67 86.9 497.25 88.9 496.83 90.91 496.41 92.91 495.99 94.91 495.58 96.91 495.16 98.91 494.75 100.91 494.34 102.91 493.93 104.91 493.51 106.92 493.11 108.92 492.7 110.92 492.29 112.92 491.88 114.92 491.48 116.92 491.07 118.92 490.67 120.93 490.26 122.93 489.86 124.93 489.45 126.93 489.05 128.93 488.65 130.93 488.25 132.93 487.85 134.93 487.45 136.94 487.04 138.94 486.64 140.94 486.24 142.94 485.84 144.94 485.44 146.94 485.04 148.94 484.64 150.95 484.24 152.95 483.84 154.95 483.44 156.95 483.04 158.95 482.64 160.95 482.24 162.95 481.84 164.95 481.44 166.96 481.04 168.96 480.64 170.96 480.24 172.96 479.83 174.96 479.43 176.96 479.03 178.96 478.62 180.97 478.22 182.97 477.81 184.97 477.4 186.97 477 188.97 476.59 190.97 476.18 192.97 475.77 194.97 475.36 196.98 474.94 198.98 474.53 200.98 474.12 202.98 473.7 204.98 473.28 206.98 472.87 208.98 472.45 210.99 472.03 212.99 471.6 214.99 471.18 216.99 470.76 218.99 470.33 220.99 469.9 222.99 469.47 224.99 469.04 227 468.61 229 468.18 231 467.74 233 467.3 235 466.86 237 466.42 239 465.98 241.01 465.53 243.01 465.08 245.01 464.63 247.01 464.18 249.01 463.73 251.01 463.27 253.01 462.81 255.01 462.35 257.02 461.89 259.02 461.42 261.02 460.96 263.02 460.49 265.02 460.01 267.02 459.54 269.02 459.06 271.03 458.58 273.03 458.1 275.03 457.61 277.03 457.12 279.03 456.63 281.03 456.14 283.03 455.64 285.03 455.14 287.04 454.64 289.04 454.13 291.04 453.62 293.04 453.11 295.04 452.6 297.04 452.08 299.04 451.56 301.05 451.03 303.05 450.5 305.05 449.97 307.05 449.44 309.05 448.9 311.05 448.36 313.05 447.81 315.05 447.26 317.06 446.71 319.06 446.15 321.06 445.59 323.06 445.03 325.06 444.46" class="ci"/>
<path d="M54.88 508.73 56.88 508.38 58.88 508.03 60.89 507.69 62.89 507.35 64.89 507.02 66.89 506.69 68.89 506.36 70.89 506.04 72.89 505.72 74.89 505.4 76.9 505.09 78.9 504.78 80.9 504.47 82.9 504.17 84.9 503.88 86.9 503.58 88.9 503.29 90.91 503.01 92.91 502.73 94.91 502.45 96.91 502.17 98.91 501.9 100.91 501.64 102.91 501.37 104.91 501.12 106.92 500.86 108.92 500.61 110.92 500.36 112.92 500.12 114.92 499.88 116.92 499.64 118.92 499.41 120.93 499.18 122.93 498.96 124.93 498.74 126.93 498.52 128.93 498.31 130.93 498.1 132.93 497.9 134.93 497.7 136.94 497.5 138.94 497.31 140.94 497.12 142.94 496.94 144.94 496.76 146.94 496.58 148.94 496.41 150.95 496.24 152.95 496.07 154.95 495.91 156.95 495.75 158.95 495.6 160.95 495.45 162.95 495.31 164.95 495.17 166.96 495.03 168.96 494.9 170.96 494.77 172.96 494.64 174.96 494.52 176.96 494.41 178.96 494.29 180.97 494.18 182.97 494.08 184.97 493.98 186.97 493.88 188.97 493.79 190.97 493.7 192.97 493.62 194.97 493.54 196.98 493.46 198.98 493.39 200.98 493.32 202.98 493.26 204.98 493.2 206.98 493.14 208.98 493.09 210.99 493.05 212.99 493 214.99 492.96 216.99 492.93 218.99 492.9 220.99 492.87 222.99 492.85 224.99 492.83 227 492.82 229 492.81 231 492.8 233 492.8 235 492.81 237 492.81 239 492.82 241.01 492.84 243.01 492.86 245.01 492.88 247.01 492.91 249.01 492.95 251.01 492.98 253.01 493.02 255.01 493.07 257.02 493.12 259.02 493.17 261.02 493.23 263.02 493.29 265.02 493.36 267.02 493.43 269.02 493.51 271.03 493.59 273.03 493.67 275.03 493.76 277.03 493.85 279.03 493.95 281.03 494.05 283.03 494.16 285.03 494.27 287.04 494.38 289.04 494.5 291.04 494.62 293.04 494.75 295.04 494.88 297.04 495.02 299.04 495.16 301.05 495.3 303.05 495.45 305.05 495.61 307.05 495.76 309.05 495.93 311.05 496.09 313.05 496.26 315.05 496.44 317.06 496.62 319.06 496.81 321.06 496.99 323.06 497.19 325.06 497.39" class="ci"/>
<path d="M54.88 505.57 56.88 505.19 58.88 504.81 60.89 504.44 62.89 504.06 64.89 503.7 66.89 503.33 68.89 502.96 70.89 502.6 72.89 502.24 74.89 501.89 76.9 501.53 78.9 501.18 80.9 500.83 82.9 500.48 84.9 500.14 86.9 499.8 88.9 499.45 90.91 499.12 92.91 498.78 94.91 498.45 96.91 498.12 98.91 497.79 100.91 497.46 102.91 497.13 104.91 496.81 106.92 496.49 108.92 496.17 110.92 495.86 112.92 495.54 114.92 495.23 116.92 494.92 118.92 494.61 120.93 494.31 122.93 494 124.93 493.7 126.93 493.4 128.93 493.1 130.93 492.81 132.93 492.51 134.93 492.22 136.94 491.93 138.94 491.64 140.94 491.36 142.94 491.07 144.94 490.79 146.94 490.51 148.94 490.23 150.95 489.95 152.95 489.67 154.95 489.4 156.95 489.13 158.95 488.86 160.95 488.59 162.95 488.32 164.95 488.06 166.96 487.79 168.96 487.53 170.96 487.27 172.96 487.01 174.96 486.75 176.96 486.5 178.96 486.24 180.97 485.99 182.97 485.74 184.97 485.49 186.97 485.24 188.97 484.99 190.97 484.75 192.97 484.5 194.97 484.26 196.98 484.02 198.98 483.78 200.98 483.54 202.98 483.3 204.98 483.07 206.98 482.83 208.98 482.6 210.99 482.37 212.99 482.14 214.99 481.91 216.99 481.68 218.99 481.45 220.99 481.23 222.99 481 224.99 480.78 227 480.56 229 480.34 231 480.12 233 479.9 235 479.68 237 479.46 239 479.25 241.01 479.03 243.01 478.82 245.01 478.61 247.01 478.39 249.01 478.18 251.01 477.97 253.01 477.77 255.01 477.56 257.02 477.35 259.02 477.14 261.02 476.94 263.02 476.73 265.02 476.53 267.02 476.33 269.02 476.13 271.03 475.92 273.03 475.72 275.03 475.52 277.03 475.32 279.03 475.13 281.03 474.93 283.03 474.73 285.03 474.53 287.04 474.34 289.04 474.14 291.04 473.95 293.04 473.76 295.04 473.56 297.04 473.37 299.04 473.18 301.05 472.99 303.05 472.79 305.05 472.6 307.05 472.41 309.05 472.22 311.05 472.03 313.05 471.85 315.05 471.66 317.06 471.47 319.06 471.28 321.06 471.09 323.06 470.91 325.06 470.72" class="gev"/>
<g class="pt"><circle cx="46.6" cy="506.5" r="1.85"/><circle cx="49.74" cy="506.5" r="1.85"/><circle cx="52.92" cy="506.5" r="1.85"/><circle cx="56.17" cy="506" r="1.85"/><circle cx="59.49" cy="505" r="1.85"/><circle cx="62.91" cy="504.9" r="1.85"/><circle cx="66.43" cy="504.9" r="1.85"/><circle cx="70.09" cy="503.8" r="1.85"/><circle cx="73.9" cy="501.8" r="1.85"/><circle cx="77.89" cy="501.6" r="1.85"/><circle cx="82.09" cy="500.2" r="1.85"/><circle cx="86.54" cy="497.8" r="1.85"/><circle cx="91.3" cy="495" r="1.85"/><circle cx="96.41" cy="494.9" r="1.85"/><circle cx="101.97" cy="493.7" r="1.85"/><circle cx="108.08" cy="493.2" r="1.85"/><circle cx="114.91" cy="492.7" r="1.85"/><circle cx="122.67" cy="491.1" r="1.85"/><circle cx="131.71" cy="491.5" r="1.85"/><circle cx="142.62" cy="491" r="1.85"/><circle cx="156.5" cy="488" r="1.85"/><circle cx="175.79" cy="484.1" r="1.85"/><circle cx="208.34" cy="481.6" r="1.85"/></g>
<path d="M45 494.56H335.8" class="red"/>
<path d="M121.4 566.4V419" class="red"/>
<path d="M121.4 486.26V502.86M113.1 494.56H129.7M115.5 488.66L127.3 500.46M115.5 500.46L127.3 488.66" class="ast"/>
</g>
<text x="47.57" y="433.5" style="font-size:14.4px;letter-spacing:0.08px;">Period: 21C2 (2061-2100)</text>
<text x="47.57" y="453.5" style="font-size:14.4px;letter-spacing:0.13px;">Data: CESM-WRF-CYI</text>
<text transform="translate(279.3 436.8) scale(1 1.08)" style="font-size:14.6px;letter-spacing:0.2px;">RCP4.5</text>
<path d="M39.7 561.3H45M39.7 544.18H45M39.7 527.07H45M39.7 509.96H45M39.7 492.85H45M39.7 475.74H45M39.7 458.62H45M39.7 441.51H45M39.7 424.4H45M70.4 566.4V571.7M112.66 566.4V571.7M144.63 566.4V571.7M176.6 566.4V571.7M218.86 566.4V571.7M250.83 566.4V571.7M282.8 566.4V571.7M325.06 566.4V571.7" class="tick"/>
<rect x="45" y="419" width="290.8" height="147.4" class="box"/>
<text x="19" y="566.18" style="font-size:13.8px;letter-spacing:0.25px;">44</text>
<text x="19.21" y="549.07" style="font-size:13.8px;letter-spacing:0.25px;">46</text>
<text x="19.2" y="531.96" style="font-size:13.8px;letter-spacing:0.25px;">48</text>
<text x="19.14" y="514.85" style="font-size:13.8px;letter-spacing:0.25px;">50</text>
<text x="19.29" y="497.73" style="font-size:13.8px;letter-spacing:0.25px;">52</text>
<text x="19" y="480.62" style="font-size:13.8px;letter-spacing:0.25px;">54</text>
<text x="19.21" y="463.51" style="font-size:13.8px;letter-spacing:0.25px;">56</text>
<text x="19.2" y="446.4" style="font-size:13.8px;letter-spacing:0.25px;">58</text>
<text x="19.14" y="429.29" style="font-size:13.8px;letter-spacing:0.25px;">60</text>
<text x="65.9" y="584.6" style="font-size:16.2px;letter-spacing:-0.55px;">2</text>
<text x="108.17" y="584.6" style="font-size:16.2px;letter-spacing:-0.55px;">5</text>
<text x="135.6" y="584.6" style="font-size:16.2px;letter-spacing:-0.55px;">10</text>
<text x="167.77" y="584.6" style="font-size:16.2px;letter-spacing:-0.55px;">20</text>
<text x="210.12" y="584.6" style="font-size:16.2px;letter-spacing:-0.55px;">50</text>
<text x="269.74" y="584.6" style="font-size:16.2px;letter-spacing:-0.55px;">200</text>
<text x="312.09" y="584.6" style="font-size:16.2px;letter-spacing:-0.55px;">500</text>
<text transform="translate(114.9 604.6) scale(1 1.05)" style="font-size:15.8px;">Return Period (years)</text>
<text transform="translate(12.95 552.4) rotate(-90) scale(1 1.05)" x="-1.3" y="0" style="font-size:15.8px;letter-spacing:0.01px;">Return Level (°C)</text>
<text transform="translate(3.61 424) scale(1 1.03)" style="font-size:17.6px;font-weight:bold;">e</text>
</g>
<g>
<path d="M391.65 561.3H682.6M391.65 544.18H682.6M391.65 527.07H682.6M391.65 509.96H682.6M391.65 492.85H682.6M391.65 475.74H682.6M391.65 458.62H682.6M391.65 441.51H682.6M391.65 424.4H682.6M417.4 419V566.4M459.66 419V566.4M491.63 419V566.4M523.6 419V566.4M565.86 419V566.4M597.83 419V566.4M629.8 419V566.4M672.06 419V566.4" class="grid"/>
<clipPath id="clipf"><rect x="391.65" y="419" width="290.95" height="147.4"/></clipPath>
<g clip-path="url(#clipf)">
<path d="M401.88 491.14 403.89 490.72 405.89 490.31 407.9 489.89 409.9 489.48 411.91 489.06 413.91 488.65 415.92 488.23 417.92 487.82 419.92 487.4 421.93 486.98 423.93 486.57 425.94 486.15 427.94 485.73 429.95 485.32 431.95 484.9 433.96 484.48 435.96 484.06 437.97 483.64 439.97 483.23 441.98 482.81 443.98 482.39 445.99 481.97 447.99 481.55 450 481.13 452 480.71 454.01 480.29 456.01 479.87 458.02 479.45 460.02 479.03 462.03 478.61 464.03 478.19 466.04 477.77 468.04 477.35 470.05 476.92 472.05 476.5 474.06 476.08 476.06 475.66 478.06 475.23 480.07 474.81 482.07 474.39 484.08 473.96 486.08 473.54 488.09 473.11 490.09 472.69 492.1 472.26 494.1 471.84 496.11 471.41 498.11 470.99 500.12 470.56 502.12 470.13 504.13 469.71 506.13 469.28 508.14 468.85 510.14 468.42 512.15 467.99 514.15 467.57 516.16 467.14 518.16 466.71 520.17 466.28 522.17 465.85 524.18 465.41 526.18 464.98 528.19 464.55 530.19 464.12 532.2 463.69 534.2 463.25 536.21 462.82 538.21 462.39 540.21 461.95 542.22 461.52 544.22 461.08 546.23 460.65 548.23 460.21 550.24 459.78 552.24 459.34 554.25 458.9 556.25 458.46 558.26 458.03 560.26 457.59 562.27 457.15 564.27 456.71 566.28 456.27 568.28 455.83 570.29 455.39 572.29 454.95 574.3 454.5 576.3 454.06 578.31 453.62 580.31 453.18 582.32 452.73 584.32 452.29 586.33 451.84 588.33 451.4 590.34 450.95 592.34 450.51 594.35 450.06 596.35 449.61 598.35 449.16 600.36 448.71 602.36 448.26 604.37 447.82 606.37 447.36 608.38 446.91 610.38 446.46 612.39 446.01 614.39 445.56 616.4 445.11 618.4 444.65 620.41 444.2 622.41 443.74 624.42 443.29 626.42 442.83 628.43 442.37 630.43 441.92 632.44 441.46 634.44 441 636.45 440.54 638.45 440.08 640.46 439.62 642.46 439.16 644.47 438.7 646.47 438.24 648.48 437.77 650.48 437.31 652.49 436.85 654.49 436.38 656.5 435.92 658.5 435.45" class="ci"/>
<path d="M401.88 496.58 403.88 496.27 405.88 495.97 407.89 495.66 409.89 495.35 411.89 495.05 413.89 494.74 415.89 494.44 417.89 494.14 419.89 493.84 421.89 493.54 423.9 493.24 425.9 492.95 427.9 492.65 429.9 492.36 431.9 492.07 433.9 491.78 435.9 491.49 437.91 491.2 439.91 490.91 441.91 490.63 443.91 490.35 445.91 490.07 447.91 489.79 449.91 489.51 451.91 489.23 453.92 488.96 455.92 488.68 457.92 488.41 459.92 488.14 461.92 487.87 463.92 487.61 465.92 487.34 467.93 487.08 469.93 486.82 471.93 486.56 473.93 486.3 475.93 486.05 477.93 485.79 479.93 485.54 481.93 485.29 483.94 485.04 485.94 484.8 487.94 484.55 489.94 484.31 491.94 484.07 493.94 483.83 495.94 483.6 497.95 483.36 499.95 483.13 501.95 482.9 503.95 482.67 505.95 482.45 507.95 482.22 509.95 482 511.95 481.78 513.96 481.57 515.96 481.35 517.96 481.14 519.96 480.93 521.96 480.72 523.96 480.51 525.96 480.31 527.97 480.11 529.97 479.91 531.97 479.72 533.97 479.52 535.97 479.33 537.97 479.14 539.97 478.95 541.97 478.77 543.98 478.59 545.98 478.41 547.98 478.23 549.98 478.06 551.98 477.89 553.98 477.72 555.98 477.55 557.99 477.39 559.99 477.23 561.99 477.07 563.99 476.91 565.99 476.76 567.99 476.61 569.99 476.46 571.99 476.32 574 476.18 576 476.04 578 475.9 580 475.77 582 475.64 584 475.51 586 475.38 588.01 475.26 590.01 475.14 592.01 475.03 594.01 474.91 596.01 474.8 598.01 474.69 600.01 474.59 602.01 474.49 604.02 474.39 606.02 474.3 608.02 474.2 610.02 474.11 612.02 474.03 614.02 473.95 616.02 473.87 618.03 473.79 620.03 473.72 622.03 473.65 624.03 473.58 626.03 473.52 628.03 473.46 630.03 473.4 632.03 473.35 634.04 473.3 636.04 473.25 638.04 473.21 640.04 473.17 642.04 473.13 644.04 473.1 646.04 473.07 648.05 473.04 650.05 473.02 652.05 473 654.05 472.98 656.05 472.97 658.05 472.96 660.05 472.96 662.05 472.96 664.06 472.96 666.06 472.96 668.06 472.97 670.06 472.99 672.06 473" class="ci"/>
<path d="M401.88 493.61 403.88 493.26 405.88 492.9 407.89 492.55 409.89 492.2 411.89 491.84 413.89 491.49 415.89 491.14 417.89 490.79 419.89 490.44 421.89 490.09 423.9 489.74 425.9 489.4 427.9 489.05 429.9 488.71 431.9 488.36 433.9 488.02 435.9 487.67 437.91 487.33 439.91 486.99 441.91 486.65 443.91 486.31 445.91 485.97 447.91 485.63 449.91 485.29 451.91 484.95 453.92 484.61 455.92 484.28 457.92 483.94 459.92 483.61 461.92 483.27 463.92 482.94 465.92 482.61 467.93 482.28 469.93 481.95 471.93 481.61 473.93 481.29 475.93 480.96 477.93 480.63 479.93 480.3 481.93 479.98 483.94 479.65 485.94 479.33 487.94 479 489.94 478.68 491.94 478.36 493.94 478.04 495.94 477.71 497.95 477.39 499.95 477.08 501.95 476.76 503.95 476.44 505.95 476.12 507.95 475.81 509.95 475.49 511.95 475.18 513.96 474.86 515.96 474.55 517.96 474.24 519.96 473.93 521.96 473.62 523.96 473.31 525.96 473 527.97 472.69 529.97 472.38 531.97 472.08 533.97 471.77 535.97 471.47 537.97 471.16 539.97 470.86 541.97 470.56 543.98 470.26 545.98 469.96 547.98 469.66 549.98 469.36 551.98 469.06 553.98 468.76 555.98 468.47 557.99 468.17 559.99 467.88 561.99 467.58 563.99 467.29 565.99 467 567.99 466.71 569.99 466.42 571.99 466.13 574 465.84 576 465.55 578 465.27 580 464.98 582 464.7 584 464.41 586 464.13 588.01 463.85 590.01 463.56 592.01 463.28 594.01 463 596.01 462.73 598.01 462.45 600.01 462.17 602.01 461.89 604.02 461.62 606.02 461.34 608.02 461.07 610.02 460.8 612.02 460.53 614.02 460.26 616.02 459.99 618.03 459.72 620.03 459.45 622.03 459.18 624.03 458.92 626.03 458.65 628.03 458.39 630.03 458.12 632.03 457.86 634.04 457.6 636.04 457.34 638.04 457.08 640.04 456.82 642.04 456.56 644.04 456.3 646.04 456.05 648.05 455.79 650.05 455.54 652.05 455.29 654.05 455.03 656.05 454.78 658.05 454.53 660.05 454.28 662.05 454.03 664.06 453.79 666.06 453.54 668.06 453.29 670.06 453.05 672.06 452.81" class="gev"/>
<g class="pt"><circle cx="394.4" cy="497.5" r="1.85"/><circle cx="397.54" cy="495.8" r="1.85"/><circle cx="400.72" cy="495" r="1.85"/><circle cx="403.97" cy="492.5" r="1.85"/><circle cx="407.29" cy="492" r="1.85"/><circle cx="410.71" cy="491.5" r="1.85"/><circle cx="414.23" cy="490.8" r="1.85"/><circle cx="417.89" cy="490.2" r="1.85"/><circle cx="421.7" cy="489.4" r="1.85"/><circle cx="425.69" cy="490" r="1.85"/><circle cx="429.89" cy="490.5" r="1.85"/><circle cx="434.34" cy="490.2" r="1.85"/><circle cx="439.1" cy="489.6" r="1.85"/><circle cx="444.21" cy="489.5" r="1.85"/><circle cx="449.77" cy="487.6" r="1.85"/><circle cx="455.88" cy="486" r="1.85"/><circle cx="462.71" cy="481.4" r="1.85"/><circle cx="470.47" cy="480.3" r="1.85"/><circle cx="479.51" cy="480.5" r="1.85"/><circle cx="490.42" cy="480.1" r="1.85"/><circle cx="504.3" cy="469.1" r="1.85"/><circle cx="523.59" cy="467.4" r="1.85"/><circle cx="556.14" cy="458.3" r="1.85"/></g>
<path d="M391.65 494.56H682.6" class="red"/>
<path d="M394 566.4V419" class="red"/>
<path d="M394 486.26V502.86M385.7 494.56H402.3M388.1 488.66L399.9 500.46M388.1 500.46L399.9 488.66" class="ast"/>
</g>
<circle cx="421.4" cy="529.6" r="2.0" class="lgc"/>
<path d="M405.2 547.4H437.3" class="gev"/>
<path d="M551.5 529.6H585" class="ci" style="stroke-dasharray:5.1 5.1;stroke-width:1.2;stroke:#a8a8a8"/>
<path d="M568.1 541.8V553.4M562.3 547.6H573.9M563.8 543.3L572.4 551.9M563.8 551.9L572.4 543.3" class="ast"/>
<text x="454.05" y="535.2" style="font-size:14.4px;letter-spacing:0.21px;">Sim. values</text>
<text x="453.98" y="553" style="font-size:14.4px;letter-spacing:0.46px;">GEV-ML</text>
<text x="600.12" y="535.2" style="font-size:14.4px;letter-spacing:0.48px;">95% CI</text>
<text x="600.24" y="553" style="font-size:14.4px;letter-spacing:0.22px;">06/2024</text>
<text x="394.22" y="433.5" style="font-size:14.4px;letter-spacing:0.08px;">Period: 21C2 (2061-2100)</text>
<text x="394.22" y="453.5" style="font-size:14.4px;letter-spacing:0.13px;">Data: CESM-WRF-CYI</text>
<text transform="translate(626.1 436.8) scale(1 1.08)" style="font-size:14.6px;letter-spacing:0.2px;">RCP8.5</text>
<path d="M386.35 561.3H391.65M386.35 544.18H391.65M386.35 527.07H391.65M386.35 509.96H391.65M386.35 492.85H391.65M386.35 475.74H391.65M386.35 458.62H391.65M386.35 441.51H391.65M386.35 424.4H391.65M417.4 566.4V571.7M459.66 566.4V571.7M491.63 566.4V571.7M523.6 566.4V571.7M565.86 566.4V571.7M597.83 566.4V571.7M629.8 566.4V571.7M672.06 566.4V571.7" class="tick"/>
<rect x="391.65" y="419" width="290.95" height="147.4" class="box"/>
<text x="365.65" y="566.18" style="font-size:13.8px;letter-spacing:0.25px;">44</text>
<text x="365.86" y="549.07" style="font-size:13.8px;letter-spacing:0.25px;">46</text>
<text x="365.85" y="531.96" style="font-size:13.8px;letter-spacing:0.25px;">48</text>
<text x="365.79" y="514.85" style="font-size:13.8px;letter-spacing:0.25px;">50</text>
<text x="365.94" y="497.73" style="font-size:13.8px;letter-spacing:0.25px;">52</text>
<text x="365.65" y="480.62" style="font-size:13.8px;letter-spacing:0.25px;">54</text>
<text x="365.86" y="463.51" style="font-size:13.8px;letter-spacing:0.25px;">56</text>
<text x="365.85" y="446.4" style="font-size:13.8px;letter-spacing:0.25px;">58</text>
<text x="365.79" y="429.29" style="font-size:13.8px;letter-spacing:0.25px;">60</text>
<text x="412.9" y="584.6" style="font-size:16.2px;letter-spacing:-0.55px;">2</text>
<text x="455.17" y="584.6" style="font-size:16.2px;letter-spacing:-0.55px;">5</text>
<text x="482.6" y="584.6" style="font-size:16.2px;letter-spacing:-0.55px;">10</text>
<text x="514.77" y="584.6" style="font-size:16.2px;letter-spacing:-0.55px;">20</text>
<text x="557.12" y="584.6" style="font-size:16.2px;letter-spacing:-0.55px;">50</text>
<text x="616.74" y="584.6" style="font-size:16.2px;letter-spacing:-0.55px;">200</text>
<text x="659.09" y="584.6" style="font-size:16.2px;letter-spacing:-0.55px;">500</text>
<text transform="translate(461.9 604.6) scale(1 1.05)" style="font-size:15.8px;">Return Period (years)</text>
<text transform="translate(359.95 552.4) rotate(-90) scale(1 1.05)" x="-1.3" y="0" style="font-size:15.8px;letter-spacing:0.01px;">Return Level (°C)</text>
<text transform="translate(349.9 424) scale(1 1.03)" style="font-size:17.6px;font-weight:bold;">f</text>
</g>
</svg></body></html>
